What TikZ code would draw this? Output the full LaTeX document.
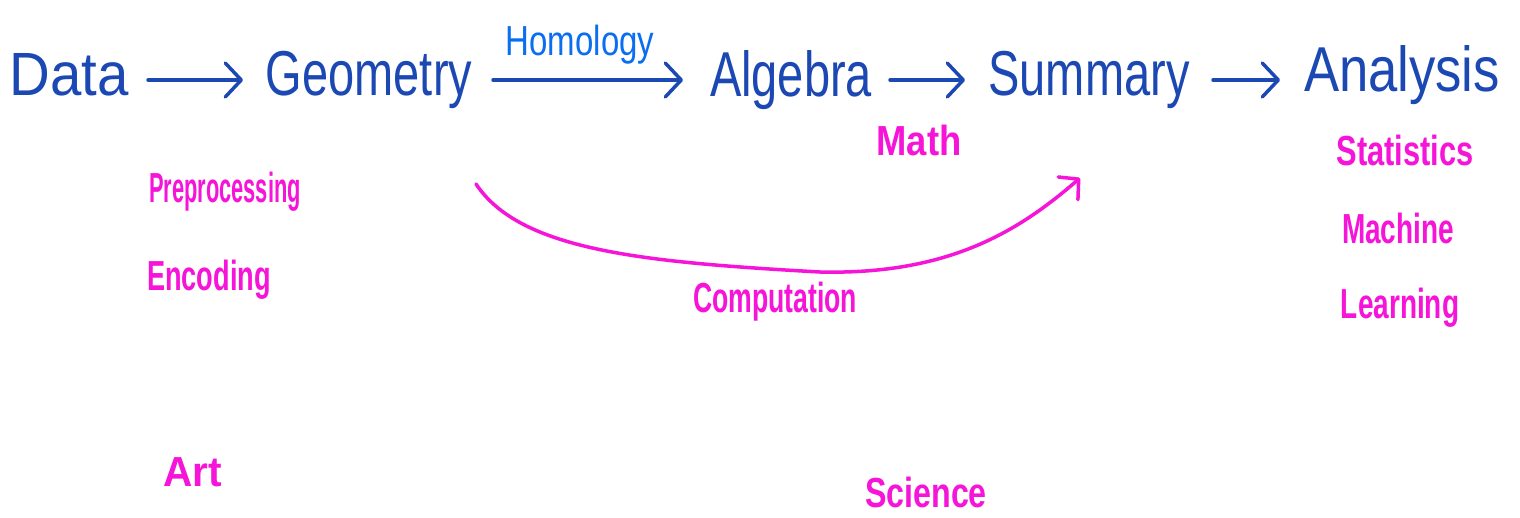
\documentclass[tikz,border=0pt]{standalone}
\usepackage{fontspec}
\setmainfont{Liberation Sans}
\usetikzlibrary{positioning,arrows.meta}
\definecolor{inkblue}{RGB}{28,72,180}
\definecolor{inklight}{RGB}{10,110,240}
\definecolor{inkpink}{RGB}{245,20,215}
\newcommand{\inkword}[3]{\scalebox{#1}[#2]{#3}}
\begin{document}
\begin{tikzpicture}[x=1pt,y=1pt,
  stage/.style={text=inkblue,font=\fontsize{47}{50}\selectfont,inner sep=0pt},
  note/.style={text=inkpink,font=\fontsize{28}{30}\selectfont\bfseries,inner sep=0pt},
  flow/.style={draw=inkblue,line width=3.5pt,line cap=round,
    -{Straight Barb[length=16pt,width=34pt,line width=3.5pt,round]}},
  swoop/.style={draw=inkpink,line width=3.5pt,line cap=round,
    -{Straight Barb[length=14pt,width=30pt,line width=3.5pt,round]}}]
\useasboundingbox[fill=white] (0,0) rectangle (1520,-517);
% main pipeline
\node[stage] (data) at (69,-75) {\inkword{1.2}{1.3}{Data}};
\node[stage] (geom) at (369,-80) {\inkword{1}{1.35}{Geometry}};
\node[stage] (alg) at (791,-80) {\inkword{1}{1.35}{Algebra}};
\node[stage] (summ) at (1089,-80) {\inkword{1}{1.35}{Summary}};
\node[stage] (anal) at (1402,-75) {\inkword{1.12}{1.35}{Analysis}};
\coordinate (a1) at (148,-80); \coordinate (b1) at (243,-80);
\coordinate (a2) at (493,-80); \coordinate (b2) at (683,-80);
\coordinate (a3) at (890,-80); \coordinate (b3) at (965,-80);
\coordinate (a4) at (1213,-80); \coordinate (b4) at (1280,-80);
\draw[flow] (a1) -- (b1);
\draw[flow] (a2) -- (b2);
\draw[flow] (a3) -- (b3);
\draw[flow] (a4) -- (b4);
\node[text=inklight,font=\fontsize{30}{32}\selectfont,inner sep=0pt] (hom) at (580,-45) {\inkword{1.1}{1.4}{Homology}};
% annotations
\node[note] (prep) at (225,-192) {\inkword{0.78}{1.5}{Preprocessing}};
\node[note] (enc) at (209,-280) {\inkword{0.97}{1.5}{Encoding}};
\node[note] (art) at (193,-472) {\inkword{1.45}{1.5}{Art}};
\node[note] (math) at (919,-140) {\inkword{1.3}{1.5}{Math}};
\node[note] (comp) at (775,-302) {\inkword{0.95}{1.5}{Computation}};
\node[note] (sci) at (926,-492) {\inkword{1.15}{1.5}{Science}};
\node[note] (stat) at (1405,-150) {\inkword{1.1}{1.5}{Statistics}};
\node[note] (mach) at (1398,-228) {\inkword{1}{1.5}{Machine}};
\node[note] (learn) at (1400,-308) {\inkword{1}{1.5}{Learning}};
% shortcut from geometry to summary
\coordinate (c1) at (476,-184); \coordinate (c2) at (1080,-178);
\draw[swoop] (c1) .. controls (520,-250) and (640,-262) .. (820,-272)
  .. controls (950,-275) and (1020,-230) .. (c2);
\end{tikzpicture}
\end{document}
